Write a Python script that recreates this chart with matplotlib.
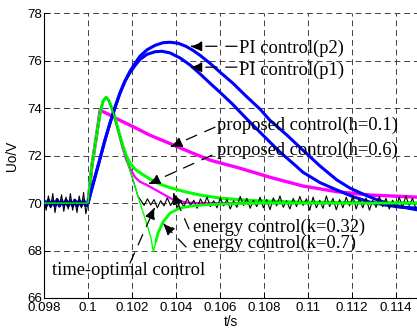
import numpy as np
import matplotlib.pyplot as plt
from matplotlib.ticker import FuncFormatter

# steady state before the load step, sampled every 0.1 ms
pre_t = np.round(np.arange(0.098, 0.10005, 0.0001), 5)
blue_pre = [70.1, 69.9, 70.12, 69.88, 70.1, 69.9, 70.14, 69.88, 70.1, 69.92, 70.12,
            69.88, 70.1, 69.9, 70.12, 69.88, 70.1, 69.9, 70.12, 69.9, 70.0]
black_pre = [70.1, 69.7, 70.3, 69.8, 70.4, 69.6, 70.2, 69.9, 70.35, 69.65, 70.25,
             69.75, 70.4, 69.7, 70.15, 69.6, 70.3, 69.8, 70.45, 69.55, 70.0]

# PI control, common rising part
pi_rise_t = [0.10023, 0.10055, 0.10077, 0.101, 0.10123, 0.10145, 0.10168]
pi_rise_v = [70.8, 71.89, 72.65, 73.37, 74.04, 74.63, 75.14]
# PI control (p2)
p2_t = [0.10191, 0.10214, 0.10236, 0.10268, 0.10305, 0.10341, 0.10373, 0.10409, 0.10445,
        0.10477, 0.10509, 0.10555, 0.106, 0.10659, 0.10714, 0.10782, 0.10827, 0.10905,
        0.10977, 0.11055, 0.11132, 0.11191, 0.1125, 0.11305, 0.11359, 0.11418, 0.115]
p2_v = [75.56, 75.89, 76.19, 76.46, 76.65, 76.76, 76.78, 76.74, 76.61, 76.44, 76.23,
        75.89, 75.52, 75.05, 74.55, 73.96, 73.49, 72.86, 72.23, 71.56, 70.97, 70.63,
        70.38, 70.17, 70.0, 69.85, 69.71]
# PI control (p1)
p1_t = [0.10191, 0.10214, 0.10236, 0.10268, 0.10305, 0.10336, 0.10373, 0.10418, 0.10464,
        0.10509, 0.10555, 0.106, 0.10655, 0.10714, 0.10773, 0.10827, 0.10873, 0.10941,
        0.10977, 0.11055, 0.11132, 0.11205, 0.11282, 0.1135, 0.11418, 0.115]
p1_v = [75.5, 75.8, 76.05, 76.27, 76.38, 76.4, 76.33, 76.12, 75.82, 75.45, 75.05, 74.67,
        74.19, 73.62, 73.07, 72.57, 72.15, 71.6, 71.3, 70.86, 70.55, 70.27, 70.04, 69.92,
        69.83, 69.79]

# fast rise shared by the proposed / energy controls
fast_rise_t = [0.098, 0.1, 0.10009, 0.10018, 0.1003, 0.10041]
fast_rise_v = [70, 70, 70.8, 71.6, 72.32, 72.99]
peak_t = [0.10055, 0.10068, 0.10082, 0.10095]
peak_v = [73.79, 74.29, 74.46, 74.32]

# proposed control (h=0.1)
h01_t = [0.10055, 0.101, 0.10145, 0.10214, 0.10282, 0.10373, 0.10464, 0.10555, 0.10691,
         0.10827, 0.10977, 0.11132, 0.11282, 0.115]
h01_v = [73.92, 73.71, 73.49, 73.18, 72.86, 72.51, 72.15, 71.81, 71.47, 71.09, 70.72,
         70.48, 70.34, 70.25]
# proposed control (h=0.6)
h06_t = [0.10114, 0.10136, 0.10155, 0.10173, 0.10191, 0.10214, 0.10236, 0.10268, 0.10305,
         0.10341, 0.10386, 0.1045, 0.10509, 0.115]
h06_v = [73.83, 73.07, 72.4, 71.85, 71.47, 71.09, 70.9, 70.76, 70.57, 70.38, 70.15,
         70.02, 70.0, 70.0]
# energy control (k=0.32)
k032_t = [0.10114, 0.10136, 0.10155, 0.10173, 0.10191, 0.10214, 0.10236, 0.10282,
          0.10327, 0.10373, 0.10441, 0.10509, 0.106, 0.10736, 0.10964, 0.115]
k032_v = [73.87, 73.16, 72.53, 72.02, 71.68, 71.43, 71.28, 71.01, 70.8, 70.65, 70.48,
          70.34, 70.21, 70.11, 70.04, 70.0]
# energy control (k=0.7)
k07_t = [0.10114, 0.10136, 0.10159, 0.10182, 0.10205, 0.10227, 0.1025, 0.10273, 0.10286,
         0.10297, 0.10309, 0.10318, 0.10341, 0.10373, 0.10418, 0.10464, 0.10523, 0.106,
         0.10782, 0.115]
k07_v = [73.83, 73.07, 72.32, 71.64, 70.97, 70.29, 69.62, 68.95, 68.53, 67.95, 68.4,
         68.74, 69.2, 69.58, 69.79, 69.87, 69.92, 69.96, 70.0, 70.0]

# time-optimal control
topt_t = [0.10114, 0.10136, 0.10159, 0.10182, 0.10205, 0.10227]
topt_v = [73.83, 73.07, 72.32, 71.64, 70.97, 70.29]
topt_ripple = [0.12, -0.1, 0.18, -0.08, 0.15, -0.2, 0.1, -0.12, 0.22, -0.1, 0.16, -0.18,
               0.08, -0.15, 0.2, -0.1, 0.12, -0.22, 0.18, -0.08, 0.25, -0.15, 0.1, -0.2,
               0.22, -0.12, 0.15, -0.25, 0.1, -0.18, 0.28, -0.1, 0.2, -0.22, 0.12, -0.15,
               0.25, -0.2, 0.15, -0.28, 0.22, -0.12, 0.3, -0.18, 0.1, -0.25, 0.2, -0.15,
               0.28, -0.1, 0.18, -0.3, 0.25, -0.2, 0.12, -0.22, 0.3, -0.15, 0.2, -0.28,
               0.15, -0.2, 0.25, -0.12, 0.3, -0.25, 0.18, -0.2, 0.22, -0.3, 0.12, -0.18,
               0.28, -0.15, 0.2, -0.25, 0.12, -0.2, 0.25, -0.18, 0.3, -0.1, 0.2, -0.22]
ripple_t = np.linspace(0.1024, 0.1149, len(topt_ripple))

# labels: (text, arrow tip, arrow tail, text position)
notes = [
    ('PI control(p2)', (0.104636, 76.61), (0.106773, 76.61), (0.106864, 76.32)),
    ('PI control(p1)', (0.104636, 75.73), (0.106773, 75.73), (0.106864, 75.39)),
    ('proposed control(h=0.1)', (0.103727, 72.37), (0.105773, 73.2), (0.105864, 73.07)),
    ('proposed control(h=0.6)', (0.102727, 70.80), (0.105636, 72.02), (0.105864, 72.02)),
    ('energy control(k=0.32)', (0.103864, 70.46), (0.104591, 68.91), (0.104773, 68.79)),
    ('energy control(k=0.7)', (0.103409, 69.16), (0.104455, 68.15), (0.104773, 68.13)),
    ('time-optimal control', (0.103045, 69.83), (0.101909, 67.47), (0.098364, 66.97)),
]

fig = plt.figure(figsize=(4.17, 3.29), dpi=100)
ax = fig.add_axes([44 / 417, 31 / 329, 374 / 417, 284.7 / 329])

pi2_t = np.concatenate([pre_t, pi_rise_t, p2_t])
pi2_v = np.concatenate([blue_pre, pi_rise_v, p2_v])
pi1_t = np.concatenate([pre_t, pi_rise_t, p1_t])
pi1_v = np.concatenate([blue_pre, pi_rise_v, p1_v])

ax.plot(fast_rise_t + h01_t, fast_rise_v + h01_v, color='#ff00ff', lw=2.4, zorder=2)
ax.plot(fast_rise_t + peak_t + h06_t, fast_rise_v + peak_v + h06_v,
        color='#ff00ff', lw=1.6, zorder=2)
ax.plot(fast_rise_t + peak_t + k032_t, fast_rise_v + peak_v + k032_v,
        color='#00ff00', lw=2.2, zorder=2.5)
ax.plot(pi1_t, pi1_v, color='#0000ff', lw=2.2, zorder=3)
ax.plot(pi2_t, pi2_v, color='#0000ff', lw=2.2, zorder=3)

black_t = np.concatenate([pre_t, fast_rise_t[2:], peak_t, topt_t, ripple_t])
black_v = np.concatenate([black_pre, fast_rise_v[2:], peak_v, topt_v,
                          70 + np.array(topt_ripple)])
ax.plot(black_t, black_v, color='k', lw=0.8, zorder=4)

k07_all_t = fast_rise_t + peak_t + k07_t
k07_all_v = fast_rise_v + peak_v + k07_v
ax.plot(k07_all_t, k07_all_v, color='#00ff00', lw=1.0, zorder=5)
i_min = k07_all_v.index(min(k07_all_v))
ax.plot(k07_all_t[i_min + 1:], k07_all_v[i_min + 1:], color='#00ff00', lw=2.0, zorder=5)

for label, tip, tail, pos in notes:
    ax.annotate('', xy=tip, xytext=tail,
                arrowprops=dict(arrowstyle='-|>,head_length=0.6,head_width=0.25',
                                color='k', lw=0.9, linestyle=(0, (9, 7)),
                                shrinkA=0, shrinkB=0, mutation_scale=12),
                zorder=8)
    ax.text(pos[0], pos[1], label, family='Liberation Serif', fontsize=13.3,
            ha='left', va='baseline', zorder=9)

ax.set_xlim(0.098, 0.115)
ax.set_ylim(66, 78)
ax.set_xticks(np.arange(0.098, 0.1145, 0.002))
ax.set_yticks(np.arange(66, 79, 2))
ax.xaxis.set_major_formatter(FuncFormatter(lambda x, _: '%g' % x))
ax.yaxis.set_major_formatter(FuncFormatter(lambda y, _: '%g' % y))
for lab in ax.get_xticklabels() + ax.get_yticklabels():
    lab.set_family('Liberation Sans')
ax.tick_params(direction='in', length=4, width=0.7, labelsize=9.6)
ax.tick_params(axis='x', pad=3)
ax.tick_params(axis='y', pad=1.5)
ax.grid(True, color='0.25', linestyle=(0, (6, 4)), linewidth=0.7)
ax.set_axisbelow(True)
ax.spines['top'].set_visible(False)
ax.spines['right'].set_visible(False)
ax.spines['left'].set_linewidth(0.8)
ax.spines['bottom'].set_linewidth(0.8)

ax.set_xlabel('t/s', family='Liberation Sans', fontsize=9.8)
ax.set_ylabel('Uo/V', family='Liberation Sans', fontsize=9.8)
ax.xaxis.set_label_coords(0.5, -0.058)
ax.yaxis.set_label_coords(-0.067, 0.5)

fig.savefig('out.png', dpi=100)
